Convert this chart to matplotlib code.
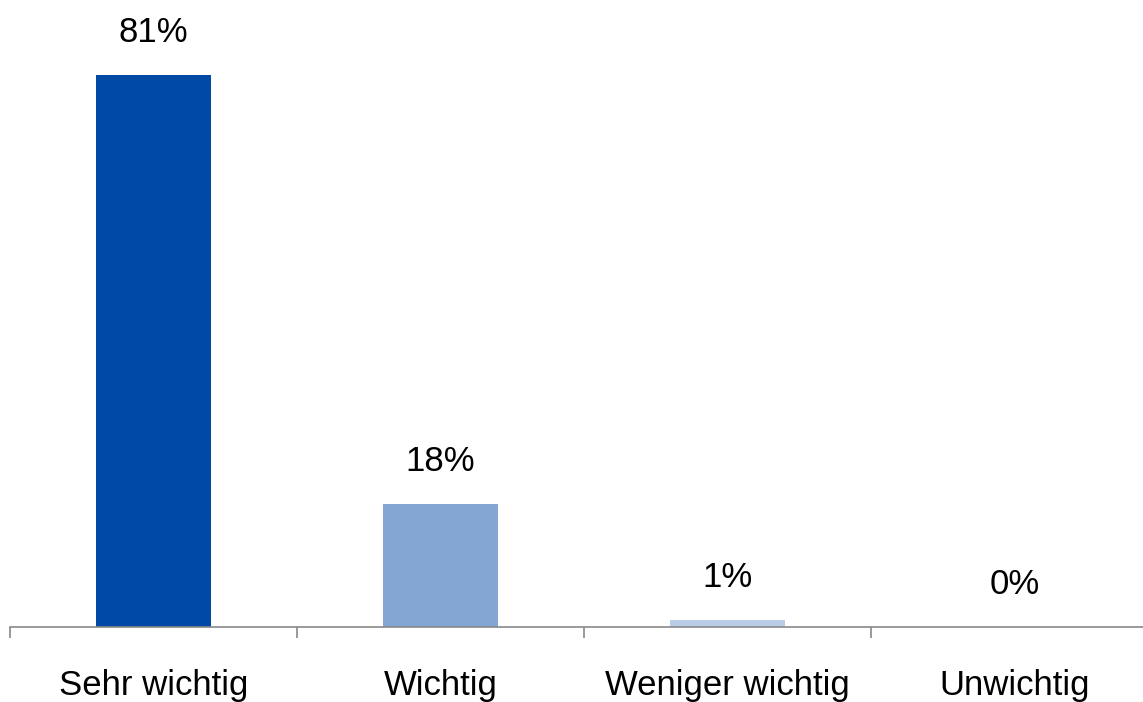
import matplotlib.pyplot as plt
from matplotlib import font_manager

# Chart data
categories = ["Sehr wichtig", "Wichtig", "Weniger wichtig", "Unwichtig"]
values = [81, 18, 1, 0]
labels = ["81%", "18%", "1%", "0%"]
colors = ["#004AA6", "#83A6D2", "#B9CDE6", "#DCE6F2"]

names = {f.name for f in font_manager.fontManager.ttflist}
family = ["Liberation Sans Narrow", "Liberation Sans", "DejaVu Sans"]
family = [f for f in family if f in names] or ["DejaVu Sans"]
plt.rcParams["font.family"] = family

fig = plt.figure(figsize=(11.43, 7.02), dpi=100)
ax = fig.add_axes([10 / 1143, 75 / 702, 1148 / 1143, 627 / 702])

x = range(len(categories))
bars = ax.bar(x, values, width=0.4, color=colors)
for b, lab in zip(bars, labels):
    ax.annotate(lab, (b.get_x() + b.get_width() / 2, b.get_height()),
                xytext=(0, 19), textcoords="offset points",
                ha="center", va="bottom", fontsize=25, color="black")

ax.set_xlim(-0.5, 3.5)
ax.set_ylim(0, 92)
ax.set_xticks(list(x))
ax.set_xticklabels(categories, fontsize=25)
ax.set_xticks([-0.5, 0.5, 1.5, 2.5, 3.5], minor=True)
ax.tick_params(axis="x", which="major", length=0, pad=30)
ax.tick_params(axis="x", which="minor", length=8, width=1.2, color="#898989")
ax.set_yticks([])
for s in ["top", "right", "left"]:
    ax.spines[s].set_visible(False)
ax.spines["bottom"].set_color("#898989")
ax.spines["bottom"].set_linewidth(1.2)

fig.savefig("out.png", dpi=100)
